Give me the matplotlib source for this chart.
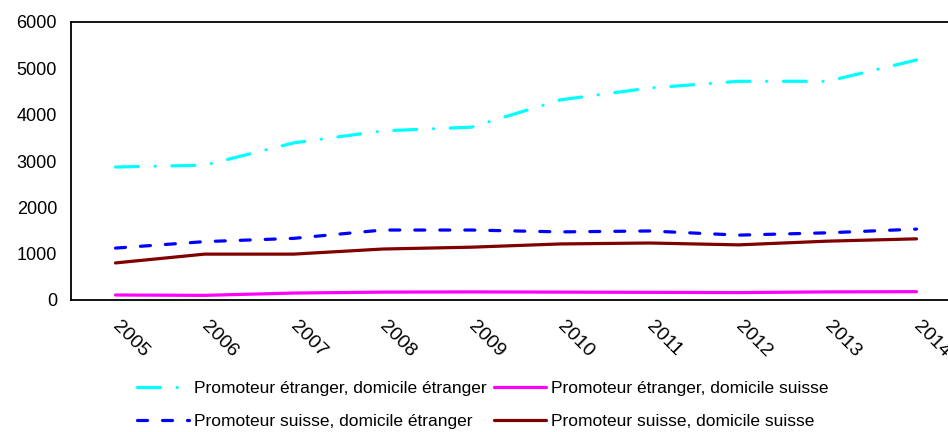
import matplotlib
matplotlib.use("Agg")
import matplotlib.pyplot as plt
from matplotlib import font_manager

names = {f.name for f in font_manager.fontManager.ttflist}
fam = ['Liberation Sans Narrow', 'Liberation Sans', 'DejaVu Sans']
fam = [f for f in fam if f in names] + ['DejaVu Sans']
plt.rcParams['font.family'] = fam
plt.rcParams['lines.scale_dashes'] = False

years = ['2005', '2006', '2007', '2008', '2009', '2010', '2011', '2012', '2013', '2014']
etr_etr = [2870, 2910, 3390, 3650, 3730, 4320, 4575, 4720, 4720, 5180]
etr_ch = [108, 100, 150, 170, 175, 170, 165, 160, 175, 180]
ch_etr = [1120, 1260, 1330, 1510, 1510, 1470, 1490, 1400, 1450, 1530]
ch_ch = [800, 990, 990, 1100, 1140, 1210, 1230, 1190, 1270, 1320]
labels = ['Promoteur étranger, domicile étranger', 'Promoteur étranger, domicile suisse',
          'Promoteur suisse, domicile étranger', 'Promoteur suisse, domicile suisse']
yticks = [0, 1000, 2000, 3000, 4000, 5000, 6000]

fig = plt.figure(figsize=(9.48, 4.32), dpi=100)
ax = fig.add_axes([71/948, 1-300/432, 890/948, 278/432])
x = range(len(years))
lw = 2.3
l1, = ax.plot(x, etr_etr, color='#00FFFF', lw=lw, dashes=(16.5, 12, 0.1, 12),
              dash_capstyle='round', solid_capstyle='round')
l2, = ax.plot(x, etr_ch, color='#FF00FF', lw=lw, solid_capstyle='round')
l3, = ax.plot(x, ch_etr, color='#0000FF', lw=lw, dashes=(7.2, 10.8),
              dash_capstyle='round')
l4, = ax.plot(x, ch_ch, color='#800000', lw=lw, solid_capstyle='round')

ax.set_xlim(-0.5, len(years) - 0.5)
ax.set_ylim(0, 6000)
ax.set_yticks(yticks)
ax.set_yticklabels([str(v) for v in yticks], fontsize=13)
ax.set_xticks(list(x))
ax.set_xticklabels(years, fontsize=14, rotation=-45, ha='left', va='center',
                   rotation_mode='anchor')
ax.tick_params(axis='both', length=0)
ax.tick_params(axis='x', pad=17)
ax.tick_params(axis='y', pad=10)
for s in ax.spines.values():
    s.set_linewidth(1.3)
    s.set_color('black')
ax.spines['right'].set_visible(False)

leg = fig.legend([l1, l3, l2, l4], [labels[0], labels[2], labels[1], labels[3]],
                 ncol=2, loc='center',
                 bbox_to_anchor=(483/948, 1-405/432), frameon=False,
                 fontsize=12.5, handlelength=3.0, handletextpad=0.3,
                 columnspacing=0.4, labelspacing=1.05)
fig.savefig('out.png', dpi=100)
